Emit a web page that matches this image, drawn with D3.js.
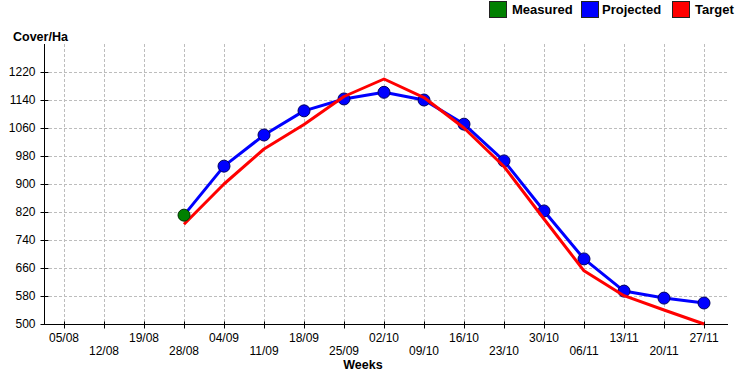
<!DOCTYPE html>
<html>
<head>
<meta charset="utf-8">
<script src="https://cdn.jsdelivr.net/npm/d3@7"></script>
<style>
  html, body { margin: 0; padding: 0; background: #fff; }
  svg { display: block; font-family: "Liberation Sans", Arial, sans-serif; }
</style>
</head>
<body>
<svg id="chart" width="754" height="382"></svg>
<script>
const weeks = ["05/08","12/08","19/08","28/08","04/09","11/09","18/09","25/09","02/10","09/10","16/10","23/10","30/10","06/11","13/11","20/11","27/11"];
const measured  = [null, null, null, 811, null, null, null, null, null, null, null, null, null, null, null, null, null];
const projected = [null, null, null, 811, 951, 1040, 1109, 1143, 1162, 1140, 1071, 966, 823, 686, 594, 574, 560];
const target    = [null, null, null, 785, 900, 1000, 1070, 1150, 1200, 1147, 1060, 950, 800, 652, 581, 540, 500];
const yTicks = [500, 580, 660, 740, 820, 900, 980, 1060, 1140, 1220];
const yDomain = [500, 1300];
const legendItems = [
  {name: "Measured", color: "#008000"},
  {name: "Projected", color: "#0000ff"},
  {name: "Target", color: "#ff0000"}
];

(function () {
const svg = d3.select("#chart");
const pL = 44, pR = 728, pT = 44, pB = 324;

const x = d3.scalePoint().domain(weeks).range([64, 704]);
const y = d3.scaleLinear().domain(yDomain).range([pB, pT]);

// grid
const grid = svg.append("g").attr("stroke", "#bdbdbd").attr("stroke-width", 1).attr("stroke-dasharray", "3,2");
grid.selectAll("line.v").data(weeks).enter().append("line")
  .attr("x1", d => Math.round(x(d)) + 0.5).attr("x2", d => Math.round(x(d)) + 0.5)
  .attr("y1", pT).attr("y2", pB);
grid.selectAll("line.h").data(yTicks.filter(v => v !== 500)).enter().append("line")
  .attr("x1", pL).attr("x2", pR)
  .attr("y1", d => Math.round(y(d)) + 0.5).attr("y2", d => Math.round(y(d)) + 0.5);

// x axis
const xAxis = svg.append("g").attr("transform", `translate(0,${pB + 0.5})`);
xAxis.append("line").attr("x1", pL).attr("x2", pR).attr("stroke", "#000");
xAxis.selectAll("line.t").data(weeks).enter().append("line")
  .attr("x1", d => Math.round(x(d)) + 0.5).attr("x2", d => Math.round(x(d)) + 0.5)
  .attr("y1", -3).attr("y2", 4).attr("stroke", "#000");
xAxis.selectAll("text").data(weeks).enter().append("text")
  .attr("x", d => x(d)).attr("y", (d, i) => i % 2 === 0 ? 17.5 : 30.5)
  .attr("text-anchor", "middle").attr("font-size", 12).attr("fill", "#000")
  .text(d => d);
svg.append("text").attr("x", 363).attr("y", 369).attr("text-anchor", "middle")
  .attr("font-size", 12.5).attr("font-weight", "bold").text("Weeks");

// y axis
const yAxis = svg.append("g").attr("transform", `translate(${pL + 0.5},0)`);
yAxis.append("line").attr("y1", pT).attr("y2", pB).attr("stroke", "#000");
yAxis.selectAll("line.t").data(yTicks).enter().append("line")
  .attr("x1", -4).attr("x2", 4)
  .attr("y1", d => Math.round(y(d)) + 0.5).attr("y2", d => Math.round(y(d)) + 0.5)
  .attr("stroke", "#000");
yAxis.selectAll("text").data(yTicks).enter().append("text")
  .attr("x", -9).attr("y", d => y(d)).attr("dy", "0.36em")
  .attr("text-anchor", "end").attr("font-size", 12).text(d => d);
svg.append("text").attr("x", 13).attr("y", 41).attr("font-size", 12.5)
  .attr("font-weight", "bold").text("Cover/Ha");

// lines
const idx = d3.range(weeks.length);
const lineGen = arr => d3.line()
  .defined(i => arr[i] !== null)
  .x(i => x(weeks[i])).y(i => y(arr[i]))(idx);

svg.append("path").attr("d", lineGen(projected)).attr("fill", "none")
  .attr("stroke", "#0000ff").attr("stroke-width", 3).attr("stroke-linejoin", "round");

svg.selectAll("circle.proj").data(idx.filter(i => projected[i] !== null && measured[i] === null))
  .enter().append("circle")
  .attr("cx", i => x(weeks[i])).attr("cy", i => y(projected[i])).attr("r", 6)
  .attr("fill", "#0000ff").attr("stroke", "#000060").attr("stroke-width", 1);

svg.append("path").attr("d", lineGen(target)).attr("fill", "none")
  .attr("stroke", "#ff0000").attr("stroke-width", 3).attr("stroke-linejoin", "round");

svg.selectAll("circle.meas").data(idx.filter(i => measured[i] !== null))
  .enter().append("circle")
  .attr("cx", i => x(weeks[i])).attr("cy", i => y(measured[i])).attr("r", 6)
  .attr("fill", "#008000").attr("stroke", "#003000").attr("stroke-width", 1);

// legend
const legendBoxX = [489, 581, 672];
const legendTextX = [512, 602, 695];
const lg = svg.append("g");
legendItems.forEach((d, i) => {
  lg.append("rect").attr("x", legendBoxX[i] + 0.5).attr("y", 1.5).attr("width", 17).attr("height", 16)
    .attr("fill", d.color).attr("stroke", "#222").attr("stroke-width", 1);
  lg.append("text").attr("x", legendTextX[i]).attr("y", 14).attr("font-size", 13)
    .attr("font-weight", "bold").text(d.name);
});
})();
</script>
</body>
</html>
